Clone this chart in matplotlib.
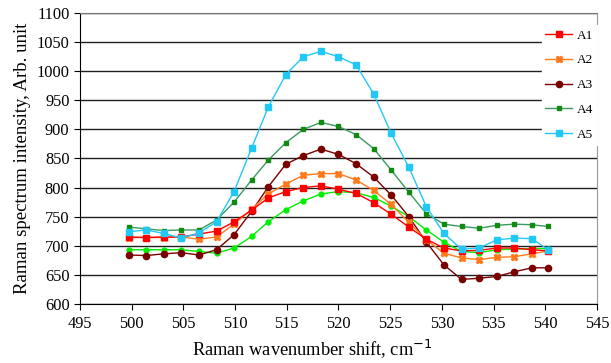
import matplotlib
matplotlib.use('Agg')
import matplotlib.pyplot as plt

# wavenumber points (cm^-1)
shift = [499.7, 501.4, 503.1, 504.8, 506.5, 508.2, 509.9, 511.6, 513.2, 514.9,
         516.6, 518.3, 520.0, 521.7, 523.4, 525.1, 526.8, 528.5, 530.2, 531.9,
         533.6, 535.3, 537.0, 538.7, 540.3]

a1 = [715, 714, 715, 715, 720, 725, 741, 761, 782, 793, 800, 803, 797, 790, 774,
      754, 732, 711, 696, 691, 692, 696, 696, 693, 691]
a2 = [714, 714, 714, 715, 711, 715, 737, 763, 789, 806, 821, 824, 824, 813, 795,
      771, 740, 710, 687, 679, 676, 680, 681, 686, 691]
a3 = [684, 683, 686, 688, 684, 693, 719, 759, 801, 840, 855, 866, 857, 841, 818,
      787, 750, 706, 667, 642, 644, 647, 655, 662, 662]
a4 = [732, 729, 726, 727, 727, 744, 775, 813, 847, 877, 900, 912, 905, 891, 867,
      830, 792, 755, 737, 733, 730, 735, 737, 736, 733]
a5 = [724, 727, 721, 713, 722, 741, 793, 868, 938, 994, 1025, 1034, 1025, 1011, 961,
      893, 835, 767, 721, 694, 696, 710, 713, 712, 693]
a6 = [693, 693, 693, 693, 690, 687, 696, 716, 741, 762, 777, 789, 793, 791, 783,
      768, 750, 727, 706, 690, 688, 693, 694, 695, 695]

plt.rcParams['font.family'] = ['Liberation Serif', 'DejaVu Serif']

fig = plt.figure(figsize=(6.11, 3.63), dpi=100)
ax = fig.add_axes([0.131, 0.163, 0.846, 0.801])

ax.plot(shift, a6, '-o', color='#00ee00', ms=3.5, lw=1.0, zorder=3)
ax.plot(shift, a4, '-s', color='#3a9a60', mfc='#108a10', mec='#108a10', ms=3, lw=1.0, label='A4', zorder=3)
ax.plot(shift, a3, '-o', color='#7a0000', ms=4.5, lw=1.0, label='A3', zorder=3)
ax.plot(shift, a2, '-X', color='#ff7a1a', ms=4.5, lw=1.0, label='A2', zorder=3)
ax.plot(shift, a1, '-s', color='#ff0000', ms=4.5, lw=1.0, label='A1', zorder=3)
ax.plot(shift, a5, '-s', color='#22c8f5', ms=4.5, lw=1.0, label='A5', zorder=3)

ax.set_xlim(495, 545)
ax.set_ylim(600, 1100)
ax.set_xticks(range(495, 546, 5))
ax.set_yticks(range(600, 1101, 50))
ax.yaxis.grid(True, color='#202020', lw=1.0)
ax.set_axisbelow(True)

ax.spines['left'].set_color('black')
ax.spines['bottom'].set_color('black')
ax.spines['right'].set_color('#999999')
ax.spines['top'].set_color('#777777')
ax.tick_params(axis='both', labelsize=11.8, direction='out', length=4, color='black')
ax.tick_params(axis='x', pad=5)

ax.set_xlabel('Raman wavenumber shift, cm$^{-1}$', fontsize=13.2, labelpad=5)
ax.xaxis.set_label_coords(0.45, -0.115)
ax.set_ylabel('Raman spectrum intensity, Arb. unit', fontsize=13.5, labelpad=4)

h, l = ax.get_legend_handles_labels()
order = [l.index(k) for k in ['A1', 'A2', 'A3', 'A4', 'A5']]
ax.legend([h[i] for i in order], [l[i] for i in order],
          loc='upper left', bbox_to_anchor=(0.88, 0.98), frameon=True,
          edgecolor='white', facecolor='white', framealpha=1, fancybox=False,
          fontsize=9.5, labelspacing=0.95, handlelength=2.0, handletextpad=0.4,
          borderpad=0.3)

fig.savefig('out.png', dpi=100)
